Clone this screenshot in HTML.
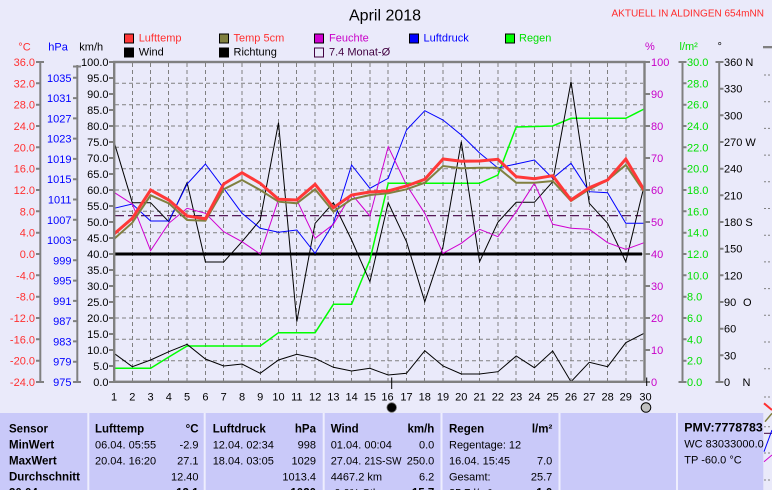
<!DOCTYPE html>
<html><head><meta charset="utf-8"><style>
html,body{margin:0;padding:0;background:#EAEAFA;}
svg{display:block;font-family:"Liberation Sans",Arial,sans-serif;}
</style></head><body>
<svg width="772" height="490" viewBox="0 0 772 490" xmlns="http://www.w3.org/2000/svg">
<rect x="0" y="0" width="772" height="490" fill="#EAEAFA"/>

<!-- Title -->
<text x="349" y="20.7" font-size="16" fill="#000">April 2018</text>
<text x="611.5" y="16.7" font-size="10" fill="#FF2A2A">AKTUELL IN ALDINGEN 654mNN</text>

<!-- Legend -->
<g font-size="11">
<rect x="124.5" y="34" width="9" height="9" fill="#FF3838" stroke="#000"/>
<text x="138.7" y="41.7" fill="#FF3030">Lufttemp</text>
<rect x="219.5" y="34" width="9" height="9" fill="#808040" stroke="#000"/>
<text x="233.5" y="41.7" fill="#FF3030">Temp 5cm</text>
<rect x="314.5" y="34" width="9" height="9" fill="#D000D0" stroke="#000"/>
<text x="329" y="41.7" fill="#C800C8">Feuchte</text>
<rect x="409.5" y="34" width="9" height="9" fill="#0000FF" stroke="#000"/>
<text x="423.5" y="41.7" fill="#0000FF">Luftdruck</text>
<rect x="505.5" y="34" width="9" height="9" fill="#00FF00" stroke="#000"/>
<text x="519" y="41.7" fill="#00E000">Regen</text>

<rect x="124.5" y="48" width="9" height="9" fill="#000" stroke="#000"/>
<text x="138.7" y="55.7" fill="#000">Wind</text>
<rect x="219.5" y="48" width="9" height="9" fill="#000" stroke="#000"/>
<text x="233.5" y="55.7" fill="#000">Richtung</text>
<rect x="314.5" y="48" width="9" height="9" fill="none" stroke="#400040"/>
<text x="329" y="55.7" fill="#400040">7.4 Monat-Ø</text>
</g>

<!-- Axis headers -->
<g font-size="11">
<text x="18.3" y="50.7" fill="#FF3030">°C</text>
<text x="48.3" y="50.7" fill="#0000FF">hPa</text>
<text x="79.3" y="50.7" fill="#000">km/h</text>
<text x="645" y="50" fill="#C800C8">%</text>
<text x="679.5" y="50" fill="#00E000">l/m²</text>
<text x="717.5" y="50" fill="#000">°</text>
</g>

<!-- Grid -->
<g stroke="#808080" stroke-width="1" stroke-dasharray="4,3" fill="none">
<path d="M115 83.3H643M115 104.7H643M115 126H643M115 147.3H643M115 168.7H643M115 190H643M115 211.3H643M115 232.7H643M115 254H643M115 275.3H643M115 296.7H643M115 318H643M115 339.3H643M115 360.7H643"/>
<path d="M132.5 63V381M150.5 63V381M168.5 63V381M187 63V381M205.5 63V381M223.5 63V381M242 63V381M260.5 63V381M278.5 63V381M296.5 63V381M315 63V381M333.5 63V381M351.5 63V381M370 63V381M388 63V381M406.5 63V381M424.5 63V381M443 63V381M461.5 63V381M479.5 63V381M498 63V381M516 63V381M534.5 63V381M552.5 63V381M571 63V381M589.5 63V381M607.5 63V381M626 63V381"/>
</g>

<!-- Left axis lines & ticks -->
<g stroke="#808080" stroke-width="2" fill="none">
<path d="M40.3 62V382"/>
<path d="M36 62H44M36 83.3H40M36 104.7H40M36 126H40M36 147.3H40M36 168.7H40M36 190H40M36 211.3H40M36 232.7H40M36 254H40M36 275.3H40M36 296.7H40M36 318H40M36 339.3H40M36 360.7H40M36 382H44"/>
<path d="M77.3 65V382"/>
<path d="M73 66.5H81M73 77.8H77M73 98.1H77M73 118.4H77M73 138.6H77M73 158.9H77M73 179.2H77M73 199.5H77M73 219.8H77M73 240H77M73 260.3H77M73 280.6H77M73 300.9H77M73 321.1H77M73 341.4H77M73 361.7H77M73 382H81"/>
<path d="M109 62H114M109 78H114M109 94H114M109 110H114M109 126H114M109 142H114M109 158H114M109 174H114M109 190H114M109 206H114M109 222H114M109 238H114M109 254H114M109 270H114M109 286H114M109 302H114M109 318H114M109 334H114M109 350H114M109 366H114M109 382H114"/>
<!-- right axes -->
<path d="M645 62H650M645 94H650M645 126H650M645 158H650M645 190H650M645 222H650M645 254H650M645 286H650M645 318H650M645 350H650M645 382H650"/>
<path d="M682.5 62V382"/>
<path d="M678.5 62H686.5M682.5 83.3H686.5M682.5 104.7H686.5M682.5 126H686.5M682.5 147.3H686.5M682.5 168.7H686.5M682.5 190H686.5M682.5 211.3H686.5M682.5 232.7H686.5M682.5 254H686.5M682.5 275.3H686.5M682.5 296.7H686.5M682.5 318H686.5M682.5 339.3H686.5M682.5 360.7H686.5M678.5 382H686.5"/>
<path d="M719.2 62V382"/>
<path d="M715.5 62H723.5M719.2 88.7H723.5M719.2 115.3H723.5M719.2 142H723.5M719.2 168.7H723.5M719.2 195.3H723.5M719.2 222H723.5M719.2 248.7H723.5M719.2 275.3H723.5M719.2 302H723.5M719.2 328.7H723.5M719.2 355.3H723.5M715.5 382H723.5"/>
</g>

<!-- Left labels -->
<g font-size="11" fill="#FF3030" text-anchor="end">
<text x="35" y="66">36.0</text><text x="35" y="87.3">32.0</text><text x="35" y="108.7">28.0</text><text x="35" y="130">24.0</text>
<text x="35" y="151.3">20.0</text><text x="35" y="172.7">16.0</text><text x="35" y="194">12.0</text><text x="35" y="215.3">8.0</text>
<text x="35" y="236.7">4.0</text><text x="35" y="258">0.0</text><text x="35" y="279.3">-4.0</text><text x="35" y="300.7">-8.0</text>
<text x="35" y="322">-12.0</text><text x="35" y="343.3">-16.0</text><text x="35" y="364.7">-20.0</text><text x="35" y="386">-24.0</text>
</g>
<g font-size="11" fill="#0000FF" text-anchor="end">
<text x="71.5" y="81.8">1035</text><text x="71.5" y="102.1">1031</text><text x="71.5" y="122.4">1027</text><text x="71.5" y="142.6">1023</text>
<text x="71.5" y="162.9">1019</text><text x="71.5" y="183.2">1015</text><text x="71.5" y="203.5">1011</text><text x="71.5" y="223.8">1007</text>
<text x="71.5" y="244">1003</text><text x="71.5" y="264.3">999</text><text x="71.5" y="284.6">995</text><text x="71.5" y="304.9">991</text>
<text x="71.5" y="325.1">987</text><text x="71.5" y="345.4">983</text><text x="71.5" y="365.7">979</text><text x="71.5" y="386">975</text>
</g>
<g font-size="11" fill="#000" text-anchor="end">
<text x="108.5" y="66">100.0</text><text x="108.5" y="82">95.0</text><text x="108.5" y="98">90.0</text><text x="108.5" y="114">85.0</text>
<text x="108.5" y="130">80.0</text><text x="108.5" y="146">75.0</text><text x="108.5" y="162">70.0</text><text x="108.5" y="178">65.0</text>
<text x="108.5" y="194">60.0</text><text x="108.5" y="210">55.0</text><text x="108.5" y="226">50.0</text><text x="108.5" y="242">45.0</text>
<text x="108.5" y="258">40.0</text><text x="108.5" y="274">35.0</text><text x="108.5" y="290">30.0</text><text x="108.5" y="306">25.0</text>
<text x="108.5" y="322">20.0</text><text x="108.5" y="338">15.0</text><text x="108.5" y="354">10.0</text><text x="108.5" y="370">5.0</text>
<text x="108.5" y="386">0.0</text>
</g>

<!-- Right labels -->
<g font-size="11" fill="#C800C8">
<text x="651" y="66">100</text><text x="651" y="98">90</text><text x="651" y="130">80</text><text x="651" y="162">70</text>
<text x="651" y="194">60</text><text x="651" y="226">50</text><text x="651" y="258">40</text><text x="651" y="290">30</text>
<text x="651" y="322">20</text><text x="651" y="354">10</text><text x="651" y="386">0</text>
</g>
<g font-size="11" fill="#00E000">
<text x="687" y="66">30.0</text><text x="687" y="87.3">28.0</text><text x="687" y="108.7">26.0</text><text x="687" y="130">24.0</text>
<text x="687" y="151.3">22.0</text><text x="687" y="172.7">20.0</text><text x="687" y="194">18.0</text><text x="687" y="215.3">16.0</text>
<text x="687" y="236.7">14.0</text><text x="687" y="258">12.0</text><text x="687" y="279.3">10.0</text><text x="687" y="300.7">8.0</text>
<text x="687" y="322">6.0</text><text x="687" y="343.3">4.0</text><text x="687" y="364.7">2.0</text><text x="687" y="386">0.0</text>
</g>
<g font-size="11" fill="#000">
<text x="724" y="66">360 N</text><text x="724" y="92.7">330</text><text x="724" y="119.3">300</text><text x="724" y="146">270 W</text>
<text x="724" y="172.7">240</text><text x="724" y="199.3">210</text><text x="724" y="226">180 S</text><text x="724" y="252.7">150</text>
<text x="724" y="279.3">120</text><text x="724" y="306">90</text><text x="743" y="306">O</text><text x="724" y="332.7">60</text>
<text x="724" y="359.3">30</text><text x="724" y="386">0</text><text x="742.5" y="386">N</text>
</g>

<!-- Reference lines -->
<line x1="115" y1="215.7" x2="641" y2="215.7" stroke="#400040" stroke-width="1.2" stroke-dasharray="9,4"/>
<line x1="115" y1="254" x2="642" y2="254" stroke="#000" stroke-width="3"/>

<!-- Series -->
<g fill="none" stroke-linejoin="miter">
<polyline stroke="#00FF00" stroke-width="1.5" points="114,368.3 132.3,368.3 150.6,368.3 168.8,357 187.1,346 205.4,346 223.7,346 242,346 260.2,346 278.5,332.7 296.8,332.7 315.1,332.7 333.4,304.3 351.6,304.3 369.9,260 388.2,183.3 406.5,183.3 424.8,183.3 443,183.3 461.3,183.3 479.6,183.3 497.9,175 516.2,127 534.4,126.5 552.7,126 571,118.3 589.3,118.3 607.6,118.3 625.8,118.3 644.1,109"/>
<polyline stroke="#000" stroke-width="1" points="114,353.3 132.3,366.7 150.6,360 168.8,351.7 187.1,344.3 205.4,359 223.7,366 242,364 260.2,373.3 278.5,360 296.8,354.3 315.1,358.3 333.4,367.3 351.6,371 369.9,368.3 388.2,375 406.5,373.3 424.8,350.7 443,366 461.3,374 479.6,374 497.9,371.7 516.2,356 534.4,367.7 552.7,351 571,381.7 589.3,362.3 607.6,366.7 625.8,342.7 644.1,333.3"/>
<polyline stroke="#000" stroke-width="1" points="114,141.7 132.3,202.7 150.6,202.7 168.8,221.7 187.1,182.7 205.4,262 223.7,262 242,241.7 260.2,220 278.5,122.7 296.8,321.7 315.1,223.3 333.4,202.7 351.6,240 369.9,281.7 388.2,202.7 406.5,241.7 424.8,301.7 443,246.7 461.3,141.7 479.6,261.7 497.9,222.3 516.2,202.3 534.4,202.3 552.7,181.7 571,81.7 589.3,203.3 607.6,223.3 625.8,261.7 644.1,186"/>
<polyline stroke="#0000FF" stroke-width="1" points="114,208.3 132.3,204 150.6,221 168.8,221 187.1,184 205.4,164 223.7,188.3 242,213.3 260.2,228.3 278.5,232.3 296.8,230 315.1,253.3 333.4,223.3 351.6,165 369.9,188.3 388.2,178.3 406.5,130 424.8,110.7 443,120 461.3,135 479.6,153 497.9,168 516.2,164 534.4,160 552.7,178.3 571,163.3 589.3,191.7 607.6,192.7 625.8,223.3 644.1,223.3"/>
<polyline stroke="#D000D0" stroke-width="1" points="114,192.3 132.3,204 150.6,250.7 168.8,223.3 187.1,208.3 205.4,213.3 223.7,231.7 242,241.7 260.2,254 278.5,199.3 296.8,200 315.1,238.3 333.4,224.3 351.6,194 369.9,216 388.2,146.7 406.5,185 424.8,213.3 443,253.3 461.3,243.3 479.6,229.3 497.9,236.7 516.2,211.7 534.4,183.3 552.7,224.3 571,228.3 589.3,229.3 607.6,242.7 625.8,249.3 644.1,242.7"/>
<polyline stroke="#808040" stroke-width="2" points="114,239 132.3,222.7 150.6,195.3 168.8,203.3 187.1,220 205.4,220.7 223.7,189.3 242,180 260.2,190 278.5,201.7 296.8,203.3 315.1,189.3 333.4,211.7 351.6,199.3 369.9,195 388.2,193.3 406.5,189.3 424.8,182.7 443,166 461.3,168.3 479.6,167.7 497.9,167.7 516.2,182.7 534.4,182.7 552.7,181 571,201 589.3,189.3 607.6,180 625.8,165 644.1,191.7"/>
<polyline stroke="#FF3838" stroke-width="3" points="114,234 132.3,218.3 150.6,190 168.8,200 187.1,216 205.4,218.7 223.7,184 242,172.7 260.2,183.3 278.5,199.3 296.8,200 315.1,184.3 333.4,207.7 351.6,195 369.9,192 388.2,191 406.5,186 424.8,179.3 443,159 461.3,161.3 479.6,161 497.9,159.3 516.2,176.7 534.4,178.7 552.7,175.7 571,200 589.3,187.7 607.6,180 625.8,159 644.1,190"/>
</g>

<!-- Plot border -->
<rect x="114.2" y="62" width="530.3" height="319.8" fill="none" stroke="#808080" stroke-width="2.4"/>

<!-- X labels -->
<g font-size="11" fill="#000" text-anchor="middle">
<text x="114" y="400.7">1</text><text x="132.3" y="400.7">2</text><text x="150.6" y="400.7">3</text><text x="168.8" y="400.7">4</text>
<text x="187.1" y="400.7">5</text><text x="205.4" y="400.7">6</text><text x="223.7" y="400.7">7</text><text x="242" y="400.7">8</text>
<text x="260.2" y="400.7">9</text><text x="278.5" y="400.7">10</text><text x="296.8" y="400.7">11</text><text x="315.1" y="400.7">12</text>
<text x="333.4" y="400.7">13</text><text x="351.6" y="400.7">14</text><text x="369.9" y="400.7">15</text><text x="387.5" y="400.7">16</text>
<text x="406.5" y="400.7">17</text><text x="424.8" y="400.7">18</text><text x="443" y="400.7">19</text><text x="461.3" y="400.7">20</text>
<text x="479.6" y="400.7">21</text><text x="497.9" y="400.7">22</text><text x="516.2" y="400.7">23</text><text x="534.4" y="400.7">24</text>
<text x="552.7" y="400.7">25</text><text x="571" y="400.7">26</text><text x="589.3" y="400.7">27</text><text x="607.6" y="400.7">28</text>
<text x="625.8" y="400.7">29</text><text x="645.5" y="400.7">30</text>
</g>

<!-- Moon markers -->
<line x1="391.7" y1="377.5" x2="391.7" y2="389" stroke="#000" stroke-width="1"/>
<line x1="646.7" y1="377.5" x2="646.7" y2="386" stroke="#000" stroke-width="1"/>
<circle cx="391.7" cy="407.5" r="4.8" fill="#000" stroke="#707070" stroke-width="0.8"/>
<circle cx="646" cy="407.5" r="4.8" fill="#C0C0C0" stroke="#000" stroke-width="1"/>

<!-- Right edge fragment of another chart -->
<g>
<rect x="763" y="46" width="9" height="2.3" fill="#808080"/>
<g stroke="#808080" stroke-width="1" stroke-dasharray="2,2">
<path d="M764 75H772M764 101.7H772M764 128.4H772M764 155.1H772M764 181.8H772M764 208.5H772M764 235.2H772M764 261.9H772M764 288.6H772M764 315.3H772M764 342H772M764 368.7H772M764 397H772M764 426.7H772M764 453H772M764 480H772"/>
</g>
</g>

<!-- Table -->
<rect x="0" y="413" width="763.3" height="77" fill="#C9C9F9"/>
<g fill="#EEEEFE">
<rect x="87.3" y="413" width="2" height="77"/>
<rect x="203.7" y="413" width="2" height="77"/>
<rect x="322.7" y="413" width="2" height="77"/>
<rect x="440.5" y="413" width="2" height="77"/>
<rect x="558.5" y="413" width="2" height="77"/>
<rect x="676" y="413" width="2" height="77"/>
</g>
<!-- fragments right of table -->
<g fill="none" stroke-width="1">
<line x1="764" y1="403.3" x2="772" y2="410" stroke="#FF3030" stroke-width="2"/>
<line x1="765" y1="421.7" x2="772" y2="413.3" stroke="#808040" stroke-width="1.5"/>
<line x1="764" y1="433.3" x2="772" y2="433.3" stroke="#400040"/>
<line x1="764" y1="451.7" x2="772" y2="430" stroke="#0000FF"/>
<line x1="764" y1="461.7" x2="772" y2="455" stroke="#D000D0"/>
</g>

<g font-size="11.5" font-weight="bold" fill="#000">
<text x="9" y="432.7">Sensor</text>
<text x="9" y="448.5">MinWert</text>
<text x="9" y="464.5">MaxWert</text>
<text x="9" y="480.5">Durchschnitt</text>
<text x="9" y="496.5">30.04.</text>
<text x="95" y="432.7">Lufttemp</text>
<text x="198.5" y="432.7" text-anchor="end">°C</text>
<text x="198.5" y="496.5" text-anchor="end">13.1</text>
<text x="212.7" y="432.7">Luftdruck</text>
<text x="316" y="432.7" text-anchor="end">hPa</text>
<text x="316" y="496.5" text-anchor="end">1020</text>
<text x="330.7" y="432.7">Wind</text>
<text x="434.3" y="432.7" text-anchor="end">km/h</text>
<text x="434.3" y="496.5" text-anchor="end">15.7</text>
<text x="449" y="432.7">Regen</text>
<text x="552.3" y="432.7" text-anchor="end">l/m²</text>
<text x="552.3" y="496.5" text-anchor="end">1.0</text>
<text x="684.3" y="431.7" textLength="78.5" lengthAdjust="spacingAndGlyphs">PMV:7778783</text>
</g>
<g font-size="11" fill="#000">
<text x="95" y="448.5">06.04. 05:55</text>
<text x="198.5" y="448.5" text-anchor="end">-2.9</text>
<text x="95" y="464.5">20.04. 16:20</text>
<text x="198.5" y="464.5" text-anchor="end">27.1</text>
<text x="198.5" y="480.5" text-anchor="end">12.40</text>

<text x="212.7" y="448.5">12.04. 02:34</text>
<text x="316" y="448.5" text-anchor="end">998</text>
<text x="212.7" y="464.5">18.04. 03:05</text>
<text x="316" y="464.5" text-anchor="end">1029</text>
<text x="316" y="480.5" text-anchor="end">1013.4</text>

<text x="330.7" y="448.5">01.04. 00:04</text>
<text x="434.3" y="448.5" text-anchor="end">0.0</text>
<text x="330.7" y="464.5">27.04.</text>
<text x="364.5" y="464.5" textLength="37" lengthAdjust="spacingAndGlyphs">21S-SW</text>
<text x="434.3" y="464.5" text-anchor="end">250.0</text>
<text x="330.7" y="480.5">4467.2 km</text>
<text x="434.3" y="480.5" text-anchor="end">6.2</text>
<text x="330.7" y="496.5">-0.0% Stl.</text>

<text x="449" y="448.5">Regentage: 12</text>
<text x="449" y="464.5">16.04. 15:45</text>
<text x="552.3" y="464.5" text-anchor="end">7.0</text>
<text x="449" y="480.5">Gesamt:</text>
<text x="552.3" y="480.5" text-anchor="end">25.7</text>
<text x="449" y="496.5">25.7 l/m²</text>

<text x="684.3" y="447.3">WC 83033000.0</text>
<text x="684.3" y="463.3">TP -60.0 °C</text>
</g>
</svg>
</body></html>
